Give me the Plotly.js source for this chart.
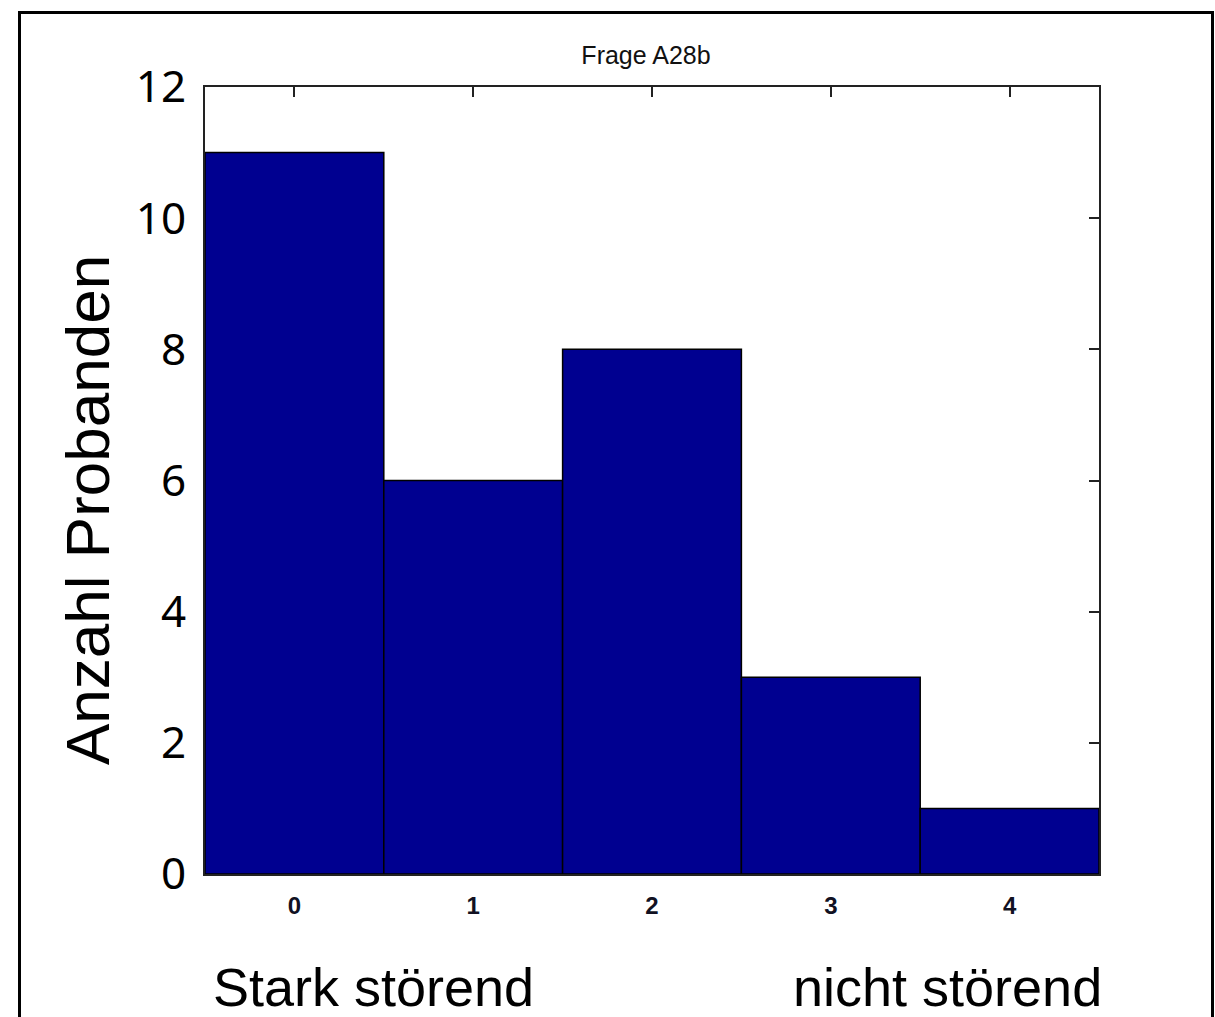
<!DOCTYPE html>
<html>
<head>
<meta charset="utf-8">
<script src="https://cdn.plot.ly/plotly-3.0.1.min.js"></script>
<style>
  html, body { margin: 0; padding: 0; background: #ffffff; overflow: hidden; }
  #chart { width: 1215px; height: 1017px; }
  #frame { position: absolute; left: 18px; top: 11px; width: 1190px; height: 1100px;
           border: 3px solid #000; pointer-events: none; }
</style>
</head>
<body>
<div id="chart"></div>
<div id="frame"></div>
<script>
const categories = [0, 1, 2, 3, 4];
const counts = [11, 6, 8, 3, 1];
const yTicks = [0, 2, 4, 6, 8, 10, 12];
const chartTitle = "Frage A28b";
const yTitle = "Anzahl Probanden";
const leftLabel = "Stark störend";
const rightLabel = "nicht störend";

const trace = {
  type: 'bar',
  x: categories,
  y: counts,
  width: 1,
  marker: { color: '#000090', line: { color: '#000000', width: 1.5 } },
  hoverinfo: 'x+y'
};

const layout = {
  width: 1215,
  height: 1017,
  margin: { l: 205, r: 116, t: 87, b: 143 },
  paper_bgcolor: '#ffffff',
  plot_bgcolor: '#ffffff',
  showlegend: false,
  bargap: 0,
  title: {
    text: chartTitle,
    font: { family: 'Liberation Sans Narrow, Arial Narrow, Liberation Sans, sans-serif', size: 25, color: '#111111' },
    x: 646 / 1215, xref: 'container', xanchor: 'center',
    y: 1 - 55 / 1017, yref: 'container', yanchor: 'middle'
  },
  xaxis: {
    range: [-0.5, 4.5],
    tickvals: categories,
    ticks: 'inside',
    ticklen: 10,
    tickwidth: 2,
    tickcolor: '#222222',
    showline: true,
    linecolor: '#222222',
    linewidth: 2,
    mirror: 'ticks',
    showgrid: false,
    zeroline: false,
    layer: 'below traces',
    ticklabelstandoff: 9,
    tickfont: { family: 'Liberation Sans Narrow, Arial Narrow, Liberation Sans, sans-serif', size: 24, weight: 'bold', color: '#111122' }
  },
  yaxis: {
    range: [0, 12],
    tickvals: yTicks,
    ticks: 'inside',
    ticklen: 10,
    tickwidth: 2,
    tickcolor: '#222222',
    showline: true,
    linecolor: '#222222',
    linewidth: 2,
    mirror: 'ticks',
    showgrid: false,
    zeroline: false,
    layer: 'below traces',
    ticklabelstandoff: 8,
    tickfont: { family: 'Noto Sans, DejaVu Sans, sans-serif', size: 44, color: '#000000' }
  },
  annotations: [
    {
      text: yTitle, textangle: -90, showarrow: false,
      xref: 'paper', yref: 'paper',
      x: (88 - 205) / 894, xanchor: 'center',
      y: (874 - 510) / 787, yanchor: 'middle',
      font: { family: 'Liberation Sans, Arial, sans-serif', size: 62, color: '#000000' }
    },
    {
      text: leftLabel, showarrow: false,
      xref: 'paper', yref: 'paper',
      x: (211 - 205) / 894, xanchor: 'left',
      y: (874 - 987) / 787, yanchor: 'middle',
      font: { family: 'Liberation Sans, Arial, sans-serif', size: 54, color: '#000000' }
    },
    {
      text: rightLabel, showarrow: false,
      xref: 'paper', yref: 'paper',
      x: (1104 - 205) / 894, xanchor: 'right',
      y: (874 - 987) / 787, yanchor: 'middle',
      font: { family: 'Liberation Sans, Arial, sans-serif', size: 54, color: '#000000' }
    }
  ]
};

Plotly.newPlot('chart', [trace], layout, { displayModeBar: false, staticPlot: true });
</script>
</body>
</html>
